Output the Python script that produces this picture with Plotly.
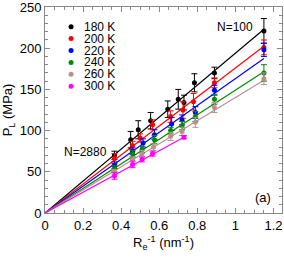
import plotly.graph_objects as go

# ---- data ----
temps = ["180 K", "200 K", "220 K", "240 K", "260 K", "300 K"]
colors = ["#000000", "#ff0000", "#0000ff", "#008a00", "#bc8f8f", "#ff00ff"]

x_180 = [0.365, 0.45, 0.49, 0.555, 0.645, 0.70, 0.73, 0.785, 0.89, 1.15]
y_180 = [70, 89, 101, 112, 126, 138, 134, 158, 170, 221]
e_180 = [5, 10, 11, 10, 10, 12, 9, 11, 7, 15]

x_200 = [0.365, 0.46, 0.50, 0.565, 0.66, 0.725, 0.78, 0.89, 1.15]
y_200 = [66, 82, 91, 107, 117, 125, 135, 158, 201]
e_200 = [6, 5, 5, 6, 7, 10, 10, 6, 9]

x_220 = [0.365, 0.46, 0.515, 0.575, 0.665, 0.72, 0.79, 0.89, 1.15]
y_220 = [58, 75, 85, 95, 108, 113, 122, 149, 198]
e_220 = [4, 4, 5, 6, 8, 6, 7, 6, 8]

x_240 = [0.365, 0.46, 0.51, 0.575, 0.66, 0.72, 0.79, 0.89, 1.15]
y_240 = [54, 72, 77, 89, 100, 106, 117, 138, 170]
e_240 = [4, 4, 4, 5, 4, 5, 6, 6, 10]

x_260 = [0.365, 0.46, 0.51, 0.57, 0.66, 0.72, 0.79, 0.89, 1.15]
y_260 = [50, 65, 72, 80, 93, 99, 110, 128, 163]
e_260 = [3, 3, 4, 4, 5, 5, 6, 6, 7]

x_300 = [0.365, 0.46, 0.51, 0.565, 0.73]
y_300 = [45, 59, 65, 72, 92]
e_300 = [4, 4, 3, 3, 2]

fit_slopes = [194, 176, 163, 149, 140, 126]  # MPa*nm, linear fits through origin

x_ticks = [0, 0.2, 0.4, 0.6, 0.8, 1.0, 1.2]
x_ticklabels = ["0", "0.2", "0.4", "0.6", "0.8", "1", "1.2"]
y_ticks = [0, 50, 100, 150, 200, 250]
y_ticklabels = ["0", "50", "100", "150", "200", "250"]

xs = [x_180, x_200, x_220, x_240, x_260, x_300]
ys = [y_180, y_200, y_220, y_240, y_260, y_300]
es = [e_180, e_200, e_220, e_240, e_260, e_300]

X_RANGE = [0, 1.245]
Y_RANGE = [0, 250.01]
FONT = "Liberation Sans, Arial, Helvetica, sans-serif"
AX = "#888888"

fig = go.Figure()

# fit lines
for name, c, x, s in zip(temps, colors, xs, fit_slopes):
    xe = [0, max(x)]
    fig.add_trace(go.Scatter(x=xe, y=[s * v for v in xe], mode="lines",
                             line=dict(color=c, width=1.2),
                             showlegend=False, hoverinfo="skip"))

# data points with error bars
for name, c, x, y, e in zip(temps, colors, xs, ys, es):
    fig.add_trace(go.Scatter(x=x, y=y, mode="markers", name=name,
                             marker=dict(color=c, size=5),
                             error_y=dict(type="data", array=e, color=c,
                                          thickness=1, width=3),
                             showlegend=False))

# custom compact legend
leg_x = 0.11
leg_y0 = 1 - (26.7 - 7) / 206
leg_dy = 11.9 / 206
shapes = []
annotations = []
for i, (name, c) in enumerate(zip(temps, colors)):
    yy = leg_y0 - i * leg_dy
    shapes.append(dict(type="circle", xref="paper", yref="paper",
                       xsizemode="pixel", ysizemode="pixel",
                       xanchor=leg_x, yanchor=yy,
                       x0=-2.5, x1=2.5, y0=-2.5, y1=2.5,
                       fillcolor=c, line=dict(color=c, width=0)))
    annotations.append(dict(xref="paper", yref="paper", x=leg_x + 11 / 237, y=yy,
                            text=name, showarrow=False, xanchor="left",
                            yanchor="middle", font=dict(size=12, color="black",
                                                        family=FONT)))

annotations += [
    dict(x=1.105, y=226, text="N=100", showarrow=False, xanchor="right",
         yanchor="middle", font=dict(size=12, color="black", family=FONT)),
    dict(x=0.335, y=74, text="N=2880", showarrow=False, xanchor="right",
         yanchor="middle", font=dict(size=12, color="black", family=FONT)),
    dict(x=1.2, y=19, text="(a)", showarrow=False, xanchor="right",
         yanchor="middle", font=dict(size=13, color="black", family=FONT)),
]

axis_common = dict(showline=True, linecolor=AX, linewidth=1,
                   mirror="allticks", ticks="inside", tickcolor=AX,
                   ticklen=5, tickwidth=1, showgrid=False, zeroline=False,
                   ticklabeloverflow="allow", tickmode="array",
                   tickfont=dict(size=13, color="black", family=FONT))

fig.update_layout(
    width=284, height=259,
    margin=dict(l=45, r=2, t=7, b=46, autoexpand=False),
    paper_bgcolor="white", plot_bgcolor="white",
    font=dict(family=FONT, color="black"),
    showlegend=False,
    shapes=shapes, annotations=annotations,
    xaxis=dict(range=X_RANGE, tickvals=x_ticks, ticktext=x_ticklabels,
               minor=dict(tickmode="linear", tick0=0, dtick=0.05,
                          ticks="inside", ticklen=3, tickcolor=AX),
               title=dict(text="R<sub>e</sub><sup>-1</sup> (nm<sup>-1</sup>)",
                          font=dict(size=13, family=FONT), standoff=6),
               **axis_common),
    yaxis=dict(range=Y_RANGE, tickvals=y_ticks, ticktext=y_ticklabels,
               minor=dict(tickmode="linear", tick0=0, dtick=10,
                          ticks="inside", ticklen=3, tickcolor=AX),
               title=dict(text="P<sub>L</sub> (MPa)",
                          font=dict(size=13, family=FONT), standoff=4),
               **axis_common),
)

fig.write_html("out.html", config={"displayModeBar": False},
               post_script="document.body.style.margin='0';")
